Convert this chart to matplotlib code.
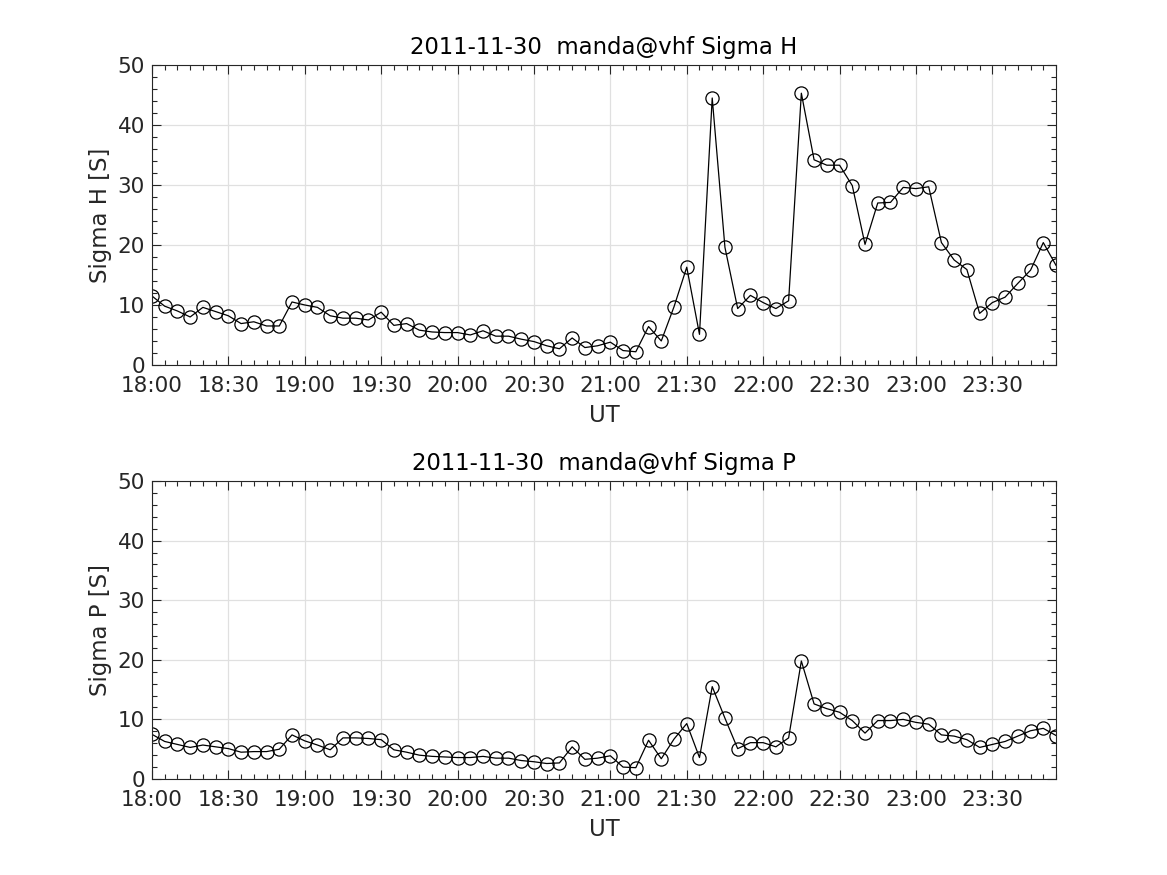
import matplotlib
matplotlib.use('Agg')
import matplotlib.pyplot as plt
import matplotlib.dates as mdates
from matplotlib.ticker import MultipleLocator
import pandas as pd

# 5-minute samples, 18:00 - 23:55 UT
times = pd.date_range('2011-11-30 18:00', periods=72, freq='5min')

sigma_h = [11.5, 9.8, 9.0, 8.0, 9.6, 8.9, 8.2, 6.9, 7.2, 6.5, 6.5, 10.5,
           10.0, 9.6, 8.2, 7.8, 7.8, 7.5, 8.8, 6.6, 6.9, 5.8, 5.5, 5.4,
           5.4, 5.0, 5.7, 4.8, 4.8, 4.3, 3.9, 3.2, 2.7, 4.5, 2.9, 3.2,
           3.8, 2.4, 2.2, 6.4, 4.0, 9.7, 16.3, 5.1, 44.5, 19.6, 9.4, 11.6,
           10.4, 9.4, 10.7, 45.3, 34.2, 33.3, 33.3, 29.9, 20.1, 27.0, 27.1, 29.6,
           29.4, 29.7, 20.4, 17.5, 15.9, 8.6, 10.4, 11.3, 13.6, 15.8, 20.4, 16.6]

sigma_p = [7.5, 6.3, 5.8, 5.3, 5.7, 5.4, 5.1, 4.5, 4.6, 4.6, 5.0, 7.4,
           6.4, 5.7, 4.9, 6.9, 6.9, 6.8, 6.6, 4.9, 4.5, 4.0, 3.8, 3.7,
           3.6, 3.6, 3.8, 3.5, 3.5, 3.1, 2.9, 2.6, 2.7, 5.4, 3.3, 3.5,
           3.9, 2.0, 1.9, 6.5, 3.4, 6.7, 9.3, 3.6, 15.5, 10.2, 5.1, 6.1,
           6.1, 5.4, 6.9, 19.8, 12.6, 11.8, 11.2, 9.8, 7.7, 9.8, 9.8, 10.0,
           9.5, 9.2, 7.4, 7.2, 6.6, 5.3, 5.8, 6.3, 7.2, 8.1, 8.5, 7.3]

panels = [('Sigma H', sigma_h), ('Sigma P', sigma_p)]

fig = plt.figure(figsize=(11.67, 8.75), dpi=100)
boxes = [[0.1302, 0.5829, 0.7747, 0.3428],
         [0.1302, 0.1097, 0.7747, 0.3406]]

for box, (name, vals) in zip(boxes, panels):
    ax = fig.add_axes(box)
    ax.plot(times, vals, '-', color='black', linewidth=0.9,
            marker='o', markersize=9.5, markerfacecolor='none',
            markeredgecolor='black', markeredgewidth=0.9)
    ax.set_xlim(times[0], times[-1])
    ax.set_ylim(0, 50)
    ax.xaxis.set_major_locator(mdates.MinuteLocator(byminute=[0, 30]))
    ax.xaxis.set_minor_locator(mdates.MinuteLocator(interval=5))
    ax.xaxis.set_major_formatter(mdates.DateFormatter('%H:%M'))
    ax.yaxis.set_major_locator(MultipleLocator(10))
    ax.yaxis.set_minor_locator(MultipleLocator(2))
    ax.grid(True, which='major', color='#e0e0e0', linewidth=0.9)
    ax.set_axisbelow(True)
    ax.tick_params(which='both', direction='in', top=True, right=True,
                   colors='#262626', labelsize=15.5, width=0.8)
    ax.tick_params(which='major', length=6.5)
    ax.tick_params(which='minor', length=3.5)
    ax.tick_params(axis='x', pad=8)
    ax.tick_params(axis='y', pad=5)
    for sp in ax.spines.values():
        sp.set_color('#262626')
        sp.set_linewidth(0.8)
    ax.set_xlabel('UT', fontsize=16.4, color='#262626', labelpad=6)
    ax.set_ylabel(name + ' [S]', fontsize=16.4, color='#262626')
    ax.set_title('2011-11-30  manda@vhf ' + name, fontsize=16.4, pad=8)

fig.savefig('out.png', dpi=100)
